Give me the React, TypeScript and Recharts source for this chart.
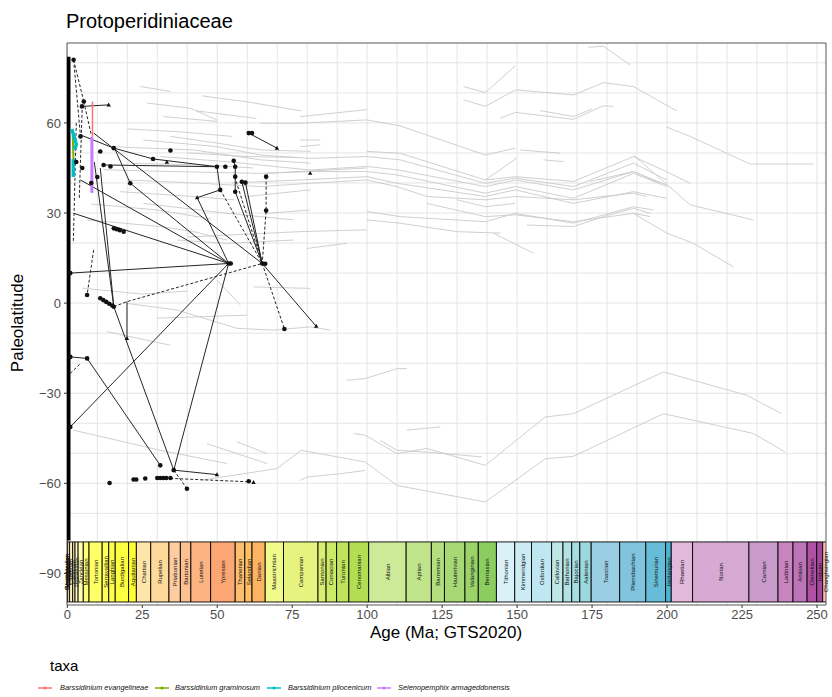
import React from 'react';
import {
  ComposedChart,
  Line,
  Scatter,
  XAxis,
  YAxis,
  CartesianGrid,
  ReferenceArea,
} from 'recharts';

type Pair = [number, number];

// axis setup
const ageTicks = [0, 25, 50, 75, 100, 125, 150, 175, 200, 225, 250];
const latTicks = [60, 30, 0, -30, -60, -90];
const ageGrid = Array.from({ length: 51 }, (_, i) => i * 5);
const latGrid = [-80, -70, -60, -50, -40, -30, -20, -10, 0, 10, 20, 30, 40, 50, 60, 70, 80];

// GTS2020 stages
const stageNames = [
  'Meghalayan', 'Northgrippian', 'Greenlandian', 'Upper', 'Chibanian', 'Calabrian', 'Gelasian',
  'Piacenzian', 'Zanclean', 'Messinian', 'Tortonian', 'Serravallian', 'Langhian', 'Burdigalian', 'Aquitanian',
  'Chattian', 'Rupelian', 'Priabonian', 'Bartonian', 'Lutetian', 'Ypresian', 'Thanetian', 'Selandian', 'Danian',
  'Maastrichtian', 'Campanian', 'Santonian', 'Coniacian', 'Turonian', 'Cenomanian', 'Albian', 'Aptian',
  'Barremian', 'Hauterivian', 'Valanginian', 'Berriasian', 'Tithonian', 'Kimmeridgian', 'Oxfordian',
  'Callovian', 'Bathonian', 'Bajocian', 'Aalenian', 'Toarcian', 'Pliensbachian', 'Sinemurian', 'Hettangian',
  'Rhaetian', 'Norian', 'Carnian', 'Ladinian', 'Anisian', 'Olenekian', 'Induan', 'Changhsingian',
];
const stageBounds = [
  0, 0.0042, 0.0082, 0.0117, 0.129, 0.774, 1.8, 2.58, 3.6, 5.333, 7.246, 11.63, 13.82, 15.98, 20.44, 23.03,
  27.82, 33.9, 37.71, 41.2, 47.8, 56.0, 59.2, 61.6, 66.0, 72.1, 83.6, 86.3, 89.8, 93.9, 100.5, 113.0, 121.4,
  125.77, 132.6, 137.05, 143.1, 149.2, 154.8, 161.5, 165.3, 168.2, 170.9, 174.7, 184.2, 192.9, 199.5, 201.4,
  208.5, 227.3, 237.0, 242.0, 246.7, 249.9, 251.9, 254.14,
];
const stageColors = [
  '#FDEDEC', '#FDECE4', '#FEECDB', '#FFF2D3', '#FFF2C7', '#FFF2BA', '#FFEDB3',
  '#FFFFBF', '#FFFFB3', '#FFFF73', '#FFFF66', '#FFFF59', '#FFFF4D', '#FFFF41', '#FFFF33',
  '#FEE6AA', '#FED99A', '#FDCDA1', '#FDC091', '#FCB482', '#FCA773', '#FDBF6F', '#FEBF65', '#FDB462',
  '#F2FA8C', '#E6F47F', '#D9EF74', '#CCE968', '#BFE35D', '#B3DE53', '#CCEA97', '#BFE48A',
  '#B3DF7F', '#A6D975', '#99D36A', '#8CCD60', '#D9F1F7', '#CCECF4', '#BFE7F1',
  '#BFE7E5', '#B3E2E3', '#A6DDE0', '#9AD9DD', '#99CEE3', '#80C5DD', '#67BCD8', '#4EB3D3',
  '#E3B9DB', '#D6AAD3', '#C99BCB', '#C983BF', '#BC75B7', '#B051A5', '#A4469F', '#FCC0B2',
];

// paleolatitude tracks of sites through time (age Ma, lat)
const greyTracks: Pair[][] = [
  [[24.4, 72.1], [34.4, 70.5]],
  [[32.1, 62.1], [49.9, 60.5]],
  [[26.6, 66.6], [41, 64.9], [49.9, 61]],
  [[34.4, 55.5], [49.9, 53.3], [64.4, 51], [81, 50.5]],
  [[14.4, 52.1], [42.1, 51], [64.4, 47.7], [81, 46.6]],
  [[64.4, 59.9], [77.7, 59.9], [99.9, 61], [111, 59], [139.4, 49.3], [149.4, 51.6]],
  [[12.1, 44.4], [34.4, 43.8], [64.4, 43.2], [77.7, 43.8], [99.9, 45]],
  [[19.9, 41], [44.4, 39.9], [64.4, 38.8], [81, 39.9], [99.9, 41], [109.9, 38.8], [119.9, 35.5], [139.4, 34.4], [149.4, 35.5], [168.8, 34.4], [188.8, 36.6], [193.2, 35.5]],
  [[17.7, 37.1], [42.1, 35.5], [55.5, 34.4]],
  [[59.9, 35.5], [81, 37.7]],
  [[66.6, 29.9], [81, 31]],
  [[6.6, 27.7], [31, 25.5], [42.1, 23.8], [53.2, 21]],
  [[36.6, 21], [53.2, 19.9], [75.5, 21]],
  [[25.4, 54.3], [49.9, 52.1], [64.4, 49.3], [81, 48.2], [99.9, 48.8], [111, 47.7], [139.4, 39.9], [149.4, 41.6], [168.8, 38.8], [188.8, 46.6], [199.9, 41]],
  [[31, 48.8], [53.2, 47.1], [81, 44.3], [99.9, 45.5], [109.9, 44.4], [139.4, 38.8], [149.4, 41], [168.8, 37.7], [188.8, 43.8], [197.7, 39.9]],
  [[66.6, 43.2], [81, 43.8], [99.9, 43.8], [109.9, 42.7], [139.4, 36.6], [149.4, 38.8], [168.8, 34.9], [188.8, 43.2], [199.9, 38.8]],
  [[25.4, 33.2], [53.2, 29.9], [75.5, 27.7]],
  [[45, 69], [60, 67], [78, 64]],
  [[43, 64], [63, 61.5]],
  [[77.7, 62.1], [99.9, 64.4]],
  [[77.7, 54.3], [84.4, 54.3]],
  [[77.7, 52.1], [84.4, 52.7]],
  [[55, 40], [77.7, 41], [99.9, 42.1], [109.9, 39.9], [139.4, 35.5], [149.4, 37.7], [168.8, 33.2], [188.8, 37.1], [199.9, 34.9]],
  [[99.9, 50.5], [111, 49.9], [139.4, 41], [149.4, 42.1], [168.8, 40.5], [188.8, 48.8], [201, 43.2], [207.7, 39.9]],
  [[99.9, 30.5], [111, 28.8], [139.4, 27.1], [149.4, 29.9], [168.8, 26.6], [188.8, 32.1], [195.5, 31]],
  [[99.9, 27.7], [111, 26.6], [129.9, 23.8], [144.4, 23.3]],
  [[119.9, 33.2], [139.4, 28.8], [149.4, 29.4], [168.8, 27.1], [188.8, 29.9], [194.4, 28.8]],
  [[129.9, 34.4], [139.4, 32.1], [149.4, 33.2]],
  [[153.2, 26], [168.8, 25.5], [178.8, 28.8], [188.8, 31.6], [194.4, 29.9]],
  [[142.1, 23.3], [155.5, 16.6]],
  [[40, 22], [77.7, 23.8], [99.9, 24.4]],
  [[79.9, 18.2], [93.2, 19.9]],
  [[132.1, 72.1], [139.4, 70.1], [149.4, 79]],
  [[132.1, 67.7], [139.4, 65.5], [149.4, 71], [168.8, 69.3], [178.8, 73.4], [188.8, 72.1], [203.2, 64]],
  [[173.8, 85.2], [178.8, 85.5], [187.7, 79.3]],
  [[144.4, 61.6], [149.4, 63.5], [168.8, 61.2], [178.8, 65.7], [182.1, 65.5]],
  [[157.7, 64.1], [168.8, 62.1], [174.9, 64.6]],
  [[199.9, 58.6], [207.7, 55.5], [227.7, 46.3], [248.8, 46.3]],
  [[151, 51], [164.4, 49.9]],
  [[158.8, 47.7], [165.5, 47.1]],
  [[139.4, 41], [149.9, 48.3]],
  [[188.8, 49.3], [207.7, 32.7], [228.8, 27.7]],
  [[188.8, 29.9], [199.9, 23.3], [208.8, 19.9], [222.1, 12.1]],
  [[174.3, 40.5], [188.8, 43.8], [199.9, 39.3]],
  [[44.4, -59], [69.9, -55.1], [78, -49], [99.4, -52.9], [109.9, -60.7], [139.4, -66.2], [159.4, -51.8], [168.8, -51], [198.8, -36.8], [228.8, -43.4], [239.4, -49.6]],
  [[95.5, -43.4], [99.4, -44], [109.9, -50.1], [119.9, -48.4], [139.4, -54], [159.4, -37.9], [168.8, -36.8], [198.8, -22.9], [226.6, -30.7], [238.2, -36.8]],
  [[77.7, -59], [79.9, -57.9], [91, -56.8], [99.4, -55.7]],
  [[93.2, -25.7], [99.4, -25.1], [109.9, -21.8], [113.2, -21.8]],
  [[113.2, -42.3], [124.4, -41.2]],
  [[104.4, -45.7], [109.9, -49], [119.9, -49.6], [138.2, -51.2]],
  [[19.9, -0.1], [36.6, -2.3], [56.6, -8.4], [68.8, -9], [81, -7.9], [87.7, -9]],
  [[13.2, -9.5], [34.3, -14]],
  [[2.1, -42.3], [31, -49], [53.2, -53.4]],
  [[46.6, -46.8], [66.6, -53.4]],
  [[56.6, -46.2], [66.6, -50.1]],
  [[62.1, 5.4], [81, 4.9]],
  [[49.9, 7.7], [57.7, -0.6]],
  [[5, 5], [25, 3], [40, 4]],
  [[30, -5], [60, -4]],
  [[20, 58], [38, 57], [55, 55.5]],
  [[22, 46.5], [45, 46], [62, 45]],
  [[8, 33], [30, 31], [48, 28]],
  [[40, 50], [60, 48.8], [76, 48.5]],
];

// occurrence links between successive records
const solidLinks: Pair[][] = [
  [[4.4, 56], [15.5, 51.6], [28.6, 48], [49.9, 45.4]],
  [[12.1, 46], [49.9, 45.4]],
  [[8.8, 56.6], [65, 13.2]],
  [[4.4, 41], [53.8, 13.2]],
  [[2.1, 29.9], [53.8, 13.2]],
  [[15.5, 52.1], [21, 39.9], [53.8, 13.2]],
  [[49.9, 45.4], [51, 37.7], [43.3, 35.1], [53.8, 13.2]],
  [[56, 45.4], [56, 37.1], [65, 13.2]],
  [[58.2, 40.4], [65, 13.2]],
  [[59.4, 40.1], [65, 13.2]],
  [[60.5, 56.6], [69.9, 51.6]],
  [[4.9, 65.5], [13.8, 66]],
  [[1, 10], [53.8, 13.2]],
  [[1, -41.2], [53.8, 13.2]],
  [[53.8, 13.2], [35.5, -55.6]],
  [[9, 47], [15.5, -1.2], [35.5, -55.6]],
  [[11, 45], [15.5, -1.2]],
  [[6.6, -18.4], [31, -54]],
  [[35.5, -55.6], [49.9, -57.1]],
  [[19.9, 0.5], [19.9, -11.8]],
  [[65, 13.2], [83, -7.7]],
  [[1, -17.9], [6.6, -18.4]],
  [[55.5, 47.4], [56, 45.4]],
];

const dashedLinks: Pair[][] = [
  [[2.1, 81], [5.5, 67.1]],
  [[2.1, 81], [4.4, 55.5]],
  [[5.5, 67.1], [8, 56]],
  [[15.5, -1.2], [19.9, 0.5], [65, 13.2]],
  [[8.8, 17.7], [6.6, 2.7]],
  [[35.5, -55.6], [39.9, -61.8]],
  [[31, -58.2], [61, -59.5]],
  [[65, 13.2], [72.4, -8.6]],
  [[1, -23.4], [4.4, -20.1]],
  [[51, 37.7], [65, 13.2]],
  [[55.8, 42.1], [65, 13.2]],
  [[66.3, 42.1], [66.3, 30.8], [65, 13.2]],
  [[3, 60], [2, 20]],
  [[5, 66], [4, 35]],
];

const modernRecords: Pair[] = [[0.4, -79], [0.4, 82]];

const dotPoints: Pair[] = [
  [2.1, 81], [5.5, 67.1], [4.9, 65.5], [60.5, 56.6], [61.6, 56.6], [49.9, 45.4], [52.7, 45.4], [55.5, 47.4],
  [56, 45.4], [56, 42.1], [58.2, 40.4], [59.4, 40.1], [66.3, 42.1], [66.3, 30.8], [51, 37.7], [56, 37.1],
  [34.4, 50.8], [28.6, 48], [15.5, 51.6], [11, 50.5], [4.4, 55.5], [12.1, 46], [14.4, 45.5], [21, 39.9],
  [15.5, 24.9], [16.5, 24.6], [17.5, 24.3], [18.8, 23.8], [53.8, 13.2], [54.5, 13.2], [65, 13.2], [66, 13.1],
  [6.6, 2.7], [11, 1.6], [12, 1], [13, 0.4], [14, -0.2], [15, -0.8], [15.5, -1.2], [72.4, -8.6], [1, 10],
  [1, -41.2], [6.6, -18.4], [1, -17.9], [35.5, -55.6], [39.9, -61.8], [14.1, -59.9], [22.1, -58.7],
  [23, -58.7], [26, -58.4], [30, -58.2], [31, -58.2], [32, -58.2], [33, -58.2], [34.4, -58.2], [60.5, -59.3],
  [31, -54], [8, 40], [10, 42], [3, 47], [5, 45],
];
const trianglePoints: Pair[] = [
  [13.8, 66], [69.9, 51.6], [81, 43.2], [43.3, 35.1], [33.2, 46.9], [19.9, -11.8], [49.9, -57.1], [83, -7.7], [62.1, -59.7],
];

// highlighted taxa
const taxaNames = [
  'Barssidinium evangelineae',
  'Barssidinium graminosum',
  'Barssidinium pliocenicum',
  'Selenopemphix armageddonensis',
];
const taxaColors = ['#F8766D', '#7CAE00', '#00BFC4', '#C77CFF'];
const evangelineae: Pair[] = [[8.4, 67.1], [8.4, 55.4]];
const graminosum: Pair[] = [[1.8, 56], [2.2, 44]];
const pliocenicumA: Pair[] = [[1.5, 58], [3, 53], [2.5, 51]];
const pliocenicumB: Pair[] = [[2, 48], [2, 42]];
const armageddonensis: Pair[] = [[8.2, 55.4], [8.2, 36.7]];

const toRows = (pts: Pair[]) => pts.map(([age, lat]) => ({ age, lat }));

const font = '"Liberation Sans", Arial, Helvetica, sans-serif';

const Dot = (p: any) => <circle cx={p.cx} cy={p.cy} r={2.3} fill="#111" />;
const Tri = (p: any) => (
  <path d={`M${p.cx},${p.cy - 2.4}L${p.cx + 2.2},${p.cy + 1.5}L${p.cx - 2.2},${p.cy + 1.5}Z`} fill="#111" />
);

const legendKeyLeft = [37, 154, 266, 376];
const legendTextLeft = [60, 175, 288, 398];

export default function App() {
  return (
    <div style={{ position: 'absolute', left: 0, top: 0, width: 832, height: 697, background: '#fff', fontFamily: font }}>
      <div style={{ position: 'absolute', left: 66, top: 10, fontSize: 20, color: '#000' }}>Protoperidiniaceae</div>

      <ComposedChart width={832} height={640} margin={{ top: 43, right: 6, left: 27, bottom: 15 }}>
        <CartesianGrid stroke="#E2E2E2" strokeWidth={0.9} verticalValues={ageGrid} horizontalValues={latGrid} />
        <XAxis
          type="number"
          dataKey="age"
          domain={[-0.1, 253]}
          ticks={ageTicks}
          allowDataOverflow
          axisLine={false}
          tickSize={3}
          tickMargin={2}
          height={20}
          tickLine={{ stroke: '#333' }}
          tick={{ fill: '#4D4D4D', fontSize: 13, fontFamily: font }}
        />
        <YAxis
          type="number"
          dataKey="lat"
          domain={[-100.5, 86.6]}
          ticks={latTicks}
          allowDataOverflow
          axisLine={false}
          tickSize={3}
          tickMargin={3}
          width={40}
          tickLine={{ stroke: '#333' }}
          tickFormatter={(v: number) => String(v).replace('-', '\u2212')}
          tick={{ fill: '#4D4D4D', fontSize: 13, fontFamily: font }}
        />

        {stageNames.map((name, i) => (
          <ReferenceArea
            key={name}
            x1={stageBounds[i]}
            x2={stageBounds[i + 1]}
            y1={-99.5}
            y2={-79.5}
            ifOverflow="hidden"
            fill={stageColors[i]}
            fillOpacity={1}
            stroke="#000"
            strokeWidth={0.9}
            label={{ value: name, position: 'center', angle: -90, fontSize: 6, fill: '#111', fontFamily: font }}
          />
        ))}

        {greyTracks.map((t, i) => (
          <Line key={'g' + i} data={toRows(t)} dataKey="lat" stroke="#C9C9C9" strokeWidth={0.9} dot={false} isAnimationActive={false} />
        ))}

        <Line data={toRows(modernRecords)} dataKey="lat" stroke="#000" strokeWidth={4} dot={false} isAnimationActive={false} />

        {solidLinks.map((t, i) => (
          <Line key={'s' + i} data={toRows(t)} dataKey="lat" stroke="#262626" strokeWidth={1} dot={false} isAnimationActive={false} />
        ))}
        {dashedLinks.map((t, i) => (
          <Line key={'d' + i} data={toRows(t)} dataKey="lat" stroke="#262626" strokeWidth={1} strokeDasharray="3 2" dot={false} isAnimationActive={false} />
        ))}

        <Scatter data={toRows(dotPoints)} dataKey="lat" shape={Dot} isAnimationActive={false} />
        <Scatter data={toRows(trianglePoints)} dataKey="lat" shape={Tri} isAnimationActive={false} />

        <Line data={toRows(graminosum)} dataKey="lat" stroke={taxaColors[1]} strokeWidth={2} dot={false} isAnimationActive={false} />
        <Line data={toRows(pliocenicumA)} dataKey="lat" stroke={taxaColors[2]} strokeWidth={3.5} dot={false} isAnimationActive={false} />
        <Line data={toRows(pliocenicumB)} dataKey="lat" stroke={taxaColors[2]} strokeWidth={3.5} dot={false} isAnimationActive={false} />
        <Line data={toRows(evangelineae)} dataKey="lat" stroke={taxaColors[0]} strokeWidth={1.5} dot={false} isAnimationActive={false} />
        <Line data={toRows(armageddonensis)} dataKey="lat" stroke={taxaColors[3]} strokeWidth={3} dot={false} isAnimationActive={false} />

        <ReferenceArea x1={-0.1} x2={253} y1={-100.5} y2={86.6} ifOverflow="visible" fill="none" stroke="#444" strokeWidth={0.9} />
      </ComposedChart>

      <div style={{ position: 'absolute', left: 0, width: 892, top: 623, textAlign: 'center', fontSize: 17 }}>Age (Ma; GTS2020)</div>
      <div
        style={{
          position: 'absolute',
          left: 18,
          top: 323,
          fontSize: 17,
          transform: 'translate(-50%, -50%) rotate(-90deg)',
          whiteSpace: 'nowrap',
        }}
      >
        Paleolatitude
      </div>

      <div style={{ position: 'absolute', left: 50, top: 657, fontSize: 15 }}>taxa</div>
      {taxaNames.map((name, i) => (
        <React.Fragment key={name}>
          <svg style={{ position: 'absolute', left: legendKeyLeft[i], top: 684 }} width={16} height={8}>
            <line x1={1} y1={4} x2={15} y2={4} stroke={taxaColors[i]} strokeWidth={1.5} />
            <circle cx={8} cy={4} r={1.6} fill={taxaColors[i]} />
          </svg>
          <span
            style={{
              position: 'absolute',
              left: legendTextLeft[i],
              top: 683,
              fontSize: 7.4,
              lineHeight: '10px',
              fontStyle: 'italic',
              color: '#111',
              whiteSpace: 'nowrap',
            }}
          >
            {name}
          </span>
        </React.Fragment>
      ))}
    </div>
  );
}
